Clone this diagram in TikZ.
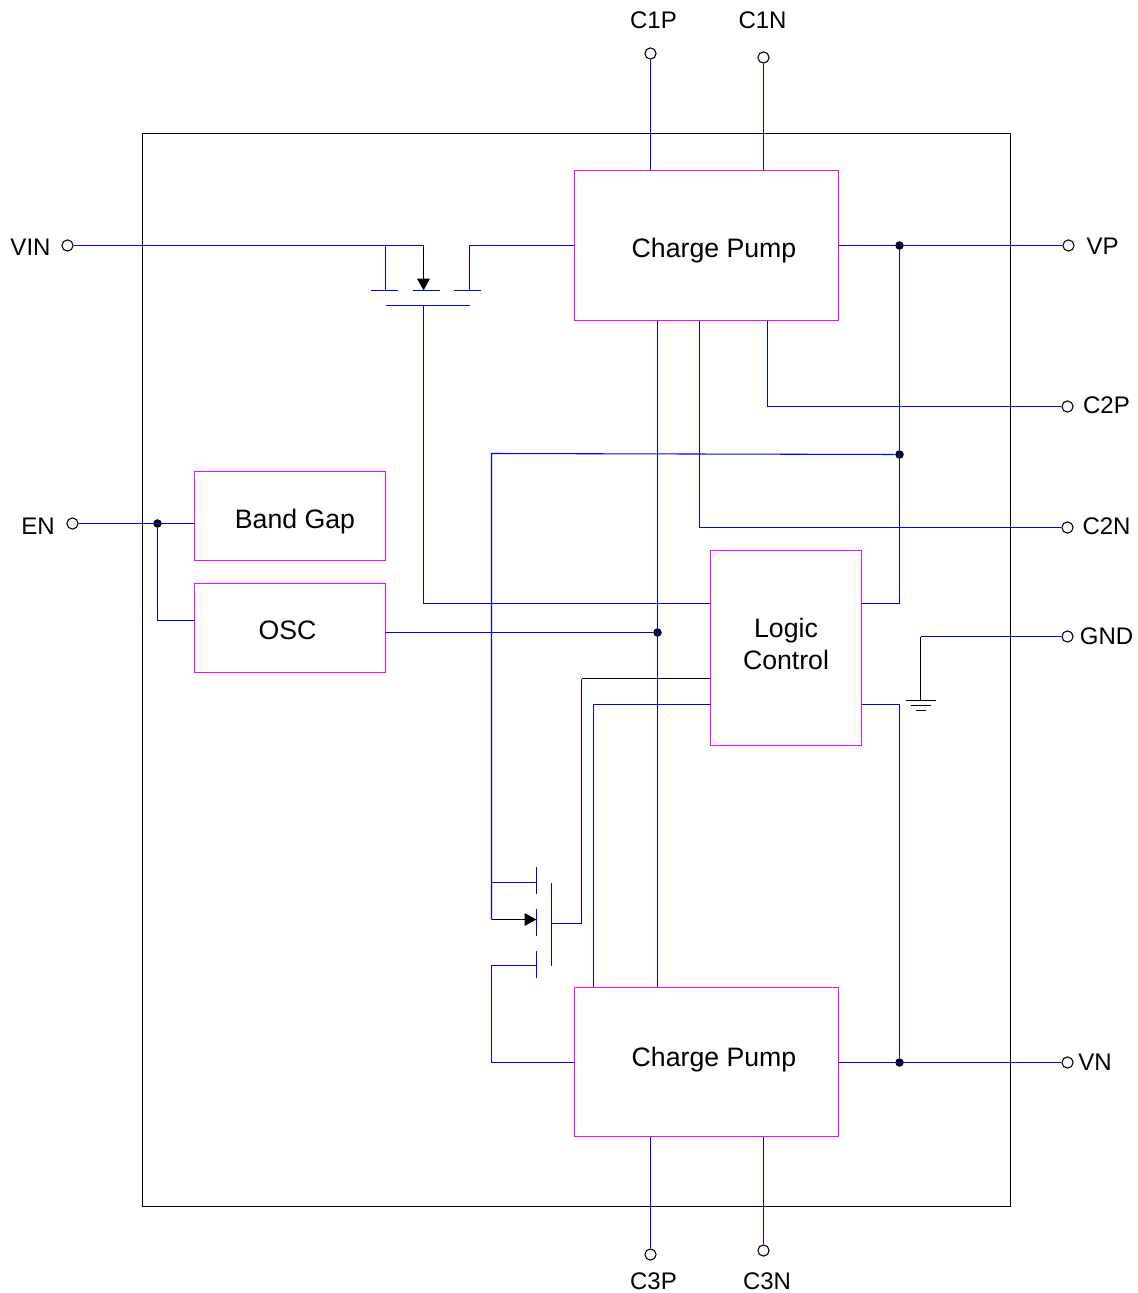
\documentclass[tikz,border=0pt]{standalone}
\usepackage{fontspec}
\setmainfont{Liberation Sans}
\definecolor{wireblue}{RGB}{0,0,255}
\definecolor{boxpink}{RGB}{255,0,255}
\begin{document}
\begin{tikzpicture}[x=0.75pt,y=-0.75pt,line width=0.8pt]
      \tikzstyle{every node}+=[inner sep=0pt]
      \tikzstyle{wire}=[wireblue]
      \tikzstyle{lead}=[black]
      \tikzstyle{blockbox}=[draw=boxpink,rectangle]
      \tikzstyle{blocktext}=[font=\fontsize{20}{24}\selectfont,align=center]
      \tikzstyle{pinname}=[font=\fontsize{18}{22}\selectfont]
      \tikzstyle{pin}=[draw=black,fill=white,circle,minimum size=8.4pt]
      \tikzstyle{junction}=[fill=black,circle,minimum size=6.4pt]
      \useasboundingbox (-0.5,-0.5) rectangle (1137.5,1292.5);
      \draw [black] (142,133) rectangle (1010,1206);
      \node [blockbox,minimum width=198pt,minimum height=112.5pt] (pumptop) at (706,245) {};
      \node [blockbox,minimum width=198pt,minimum height=111.75pt] (pumpbot) at (706,1061.5) {};
      \node [blockbox,minimum width=143.25pt,minimum height=66.75pt] (bandgap) at (289.5,515.5) {};
      \node [blockbox,minimum width=143.25pt,minimum height=66.75pt] (osc) at (289.5,627.5) {};
      \node [blockbox,minimum width=113.25pt,minimum height=146.25pt] (logic) at (785.5,647.5) {};
      \node [blocktext] (pumptoptext) at (713.5,250.5) {Charge Pump};
      \node [blocktext] (pumpbottext) at (713.5,1059.5) {Charge Pump};
      \node [blocktext] (bandgaptext) at (294.5,521.5) {Band Gap};
      \node [blocktext] (osctext) at (287,629.5) {OSC};
      \node [blocktext] (logictext) at (785.5,643.5) {Logic\\Control};
      \node [pin] (c1p) at (650,53) {};
      \node [pin] (c1n) at (763,57) {};
      \node [pin] (vin) at (67,245) {};
      \node [pin] (vp) at (1068,245) {};
      \node [pin] (c2p) at (1067,406) {};
      \node [pin] (c2n) at (1067,527) {};
      \node [pin] (gnd) at (1067,636) {};
      \node [pin] (en) at (72,523) {};
      \node [pin] (vn) at (1067,1062) {};
      \node [pin] (c3p) at (650,1254) {};
      \node [pin] (c3n) at (763,1250) {};
      \node [pinname] (c1ptext) at (653,19.5) {C1P};
      \node [pinname] (c1ntext) at (762,19.5) {C1N};
      \node [pinname] (vintext) at (30,246.5) {VIN};
      \node [pinname] (vptext) at (1102,245.5) {VP};
      \node [pinname] (c2ptext) at (1106,404.5) {C2P};
      \node [pinname] (c2ntext) at (1106,525.5) {C2N};
      \node [pinname] (gndtext) at (1106,635.5) {GND};
      \node [pinname] (entext) at (37.5,525.5) {EN};
      \node [pinname] (vntext) at (1094.5,1061.5) {VN};
      \node [pinname] (c3ptext) at (653,1280.5) {C3P};
      \node [pinname] (c3ntext) at (766.5,1280.5) {C3N};
      \node [junction] (vpdot) at (899,245) {};
      \node [junction] (senddot) at (899,454) {};
      \node [junction] (endot) at (157,523) {};
      \node [junction] (oscdot) at (657,632) {};
      \node [junction] (vndot) at (899,1062) {};
      \coordinate (hsbody) at (423,245);
      \coordinate (hssrc) at (385,290);
      \coordinate (hsmid) at (423,290);
      \coordinate (hsdrain) at (469,290);
      \coordinate (hsgate) at (423,305);
      \coordinate (lsleft) at (491,453);
      \coordinate (lstop) at (536,882);
      \coordinate (lsmid) at (536,919);
      \coordinate (lsbot) at (536,965);
      \coordinate (lsgate) at (551,923);
      \coordinate (logicgate) at (581,678);
      \coordinate (logicpump) at (593,704);
      \coordinate (logicvn) at (899,704);
      \coordinate (grnd) at (920,700);
      \draw [wire] (vin) -- (hsbody);
      \draw [wire] (hssrc) -- (hssrc |- vin);
      \draw [lead] (hsbody) -- (hsmid);
      \fill [black] (hsmid) -- ++(-6.5,-12) -- ++(13,0) -- cycle;
      \draw [wire] (hssrc) ++(-15,0) -- ++(27,0);
      \draw [wire] (hsmid) ++(-11,0) -- ++(27,0);
      \draw [wire] (hsdrain) ++(-16,0) -- ++(27,0);
      \draw [wire] (hsgate) ++(-38,0) -- ++(84,0);
      \draw [wire] (hsdrain) |- (pumptop.west);
      \draw [wire] (hsgate) |- (logic.west |- 0,603);
      \draw [wire] (c1p) -- (c1p |- pumptop.north);
      \draw [wire] (c1n) -- (c1n |- pumptop.north);
      \draw [wire] (pumptop.east) -- (vp);
      \draw [wire] (vpdot) |- (logic.east |- 0,603);
      \draw [wire] (senddot) -- (lsleft) -- (lsmid -| lsleft);
      \draw [lead] (lsmid -| lsleft) -- (lsmid);
      \fill [black] (lsmid) -- ++(-12,-6.5) -- ++(0,13) -- cycle;
      \draw [wire] (lstop -| lsleft) -- (lstop);
      \draw [wire] (lstop) ++(0,-16) -- ++(0,27);
      \draw [wire] (lsmid) ++(0,-11) -- ++(0,27);
      \draw [wire] (lsbot) ++(0,-15) -- ++(0,27);
      \draw [wire] (lsgate) ++(0,-41) -- ++(0,83);
      \draw [wire] (lsgate) -| (logicgate);
      \draw [lead] (logicgate) -- (logicgate -| logic.west);
      \draw [wire] (logicpump |- pumpbot.north) -- (logicpump) -- (logicpump -| logic.west);
      \draw [wire] (lsbot) -| (lsleft |- vn) -- (pumpbot.west |- vn);
      \draw [wire] (oscdot |- pumptop.south) -- (oscdot |- pumpbot.north);
      \draw [wire] (osc.east |- oscdot) -- (oscdot);
      \draw [wire] (699,320) |- (c2n);
      \draw [wire] (767,320) |- (c2p);
      \draw [wire] (en) -- (en -| bandgap.west);
      \draw [wire] (endot) |- (osc.west |- 0,620);
      \draw [wire] (logicvn -| logic.east) -- (logicvn) -- (vndot);
      \draw [wire] (pumpbot.east |- vn) -- (vn);
      \draw [wire] (c3p) -- (c3p |- pumpbot.south);
      \draw [wire] (c3n) -- (c3n |- pumpbot.south);
      \draw [wire] (gnd) -- (gnd -| grnd);
      \draw [lead] (gnd -| grnd) -- (grnd);
      \draw [black] (grnd) ++(-15,0) -- ++(30,0);
      \draw [black] (grnd) ++(-10,5) -- ++(20,0);
      \draw [black] (grnd) ++(-5,10) -- ++(10,0);
\end{tikzpicture}
\end{document}
